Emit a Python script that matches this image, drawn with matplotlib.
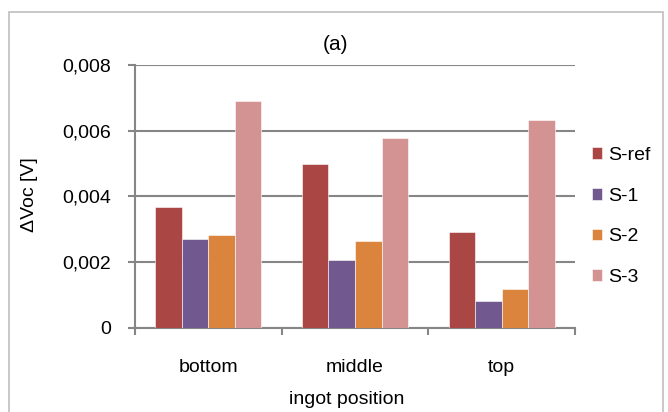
import matplotlib
matplotlib.use("Agg")
import matplotlib.pyplot as plt
import numpy as np
from matplotlib.patches import Rectangle

plt.rcParams["font.family"] = ["Liberation Sans", "DejaVu Sans"]

# data
categories = ["bottom", "middle", "top"]
series = ["S-ref", "S-1", "S-2", "S-3"]
s_ref = [0.00368, 0.00500, 0.00292]
s_1 = [0.00270, 0.00208, 0.00081]
s_2 = [0.00282, 0.00264, 0.00118]
s_3 = [0.00689, 0.00579, 0.00634]
y_ticks = [0, 0.002, 0.004, 0.006, 0.008]
y_tick_labels = ["0", "0,002", "0,004", "0,006", "0,008"]

colors = ["#AA4643", "#71588F", "#DB843D", "#D39392"]
grid_col = "#868686"

W, H = 668, 412
fig = plt.figure(figsize=(W / 100, H / 100), dpi=100)
fig.patches.append(Rectangle((8.5 / W, -0.1), (663 - 8.5) / W, 1.1 - 12 / H,
                             transform=fig.transFigure, fill=False,
                             edgecolor="#BFBFBF", linewidth=1.2))

ax = fig.add_axes([135 / W, (H - 328) / H, 440 / W, 263 / H])

x = np.arange(len(categories))
bw = 0.181
values = [s_ref, s_1, s_2, s_3]
for i, (name, vals) in enumerate(zip(series, values)):
    ax.bar(x + (i - 1.5) * bw, vals, width=bw, color=colors[i], label=name,
           edgecolor="white", linewidth=0.4, zorder=3)

ax.set_xlim(-0.5, len(categories) - 0.5)
ax.set_ylim(0, 0.008)
ax.set_yticks(y_ticks)
ax.set_yticklabels(y_tick_labels)
ax.yaxis.grid(True, color=grid_col, linewidth=1.5, zorder=0)
ax.set_axisbelow(True)

ax.set_xticks(x)
ax.set_xticklabels(categories)
ax.set_xticks(np.arange(-0.5, len(categories), 1.0), minor=True)
ax.tick_params(axis="x", which="major", length=0, pad=22, labelsize=14)
ax.tick_params(axis="x", which="minor", length=5, width=1.5, color=grid_col, direction="out")
ax.tick_params(axis="y", length=5, width=1.5, color=grid_col, labelsize=14, pad=12.5)

for s in ["top", "right"]:
    ax.spines[s].set_visible(False)
for s in ["left", "bottom"]:
    ax.spines[s].set_color(grid_col)
    ax.spines[s].set_linewidth(1.5)

# chart-level texts placed in pixel positions
fig.text(29 / W, 1 - 195 / H, "ΔVoc [V]", fontsize=14, rotation=90, ha="center", va="center")
fig.text(347 / W, 1 - 400 / H, "ingot position", fontsize=14, ha="center", va="center")
fig.text(335 / W, 1 - 45 / H, "(a)", fontsize=15, ha="center", va="center")

ax.legend(loc="center left", bbox_to_anchor=(1.02, 0.424), frameon=False,
          fontsize=14, handlelength=0.55, handleheight=0.55, handletextpad=0.3,
          labelspacing=1.22, borderaxespad=0)

fig.savefig("out.png", dpi=100)
